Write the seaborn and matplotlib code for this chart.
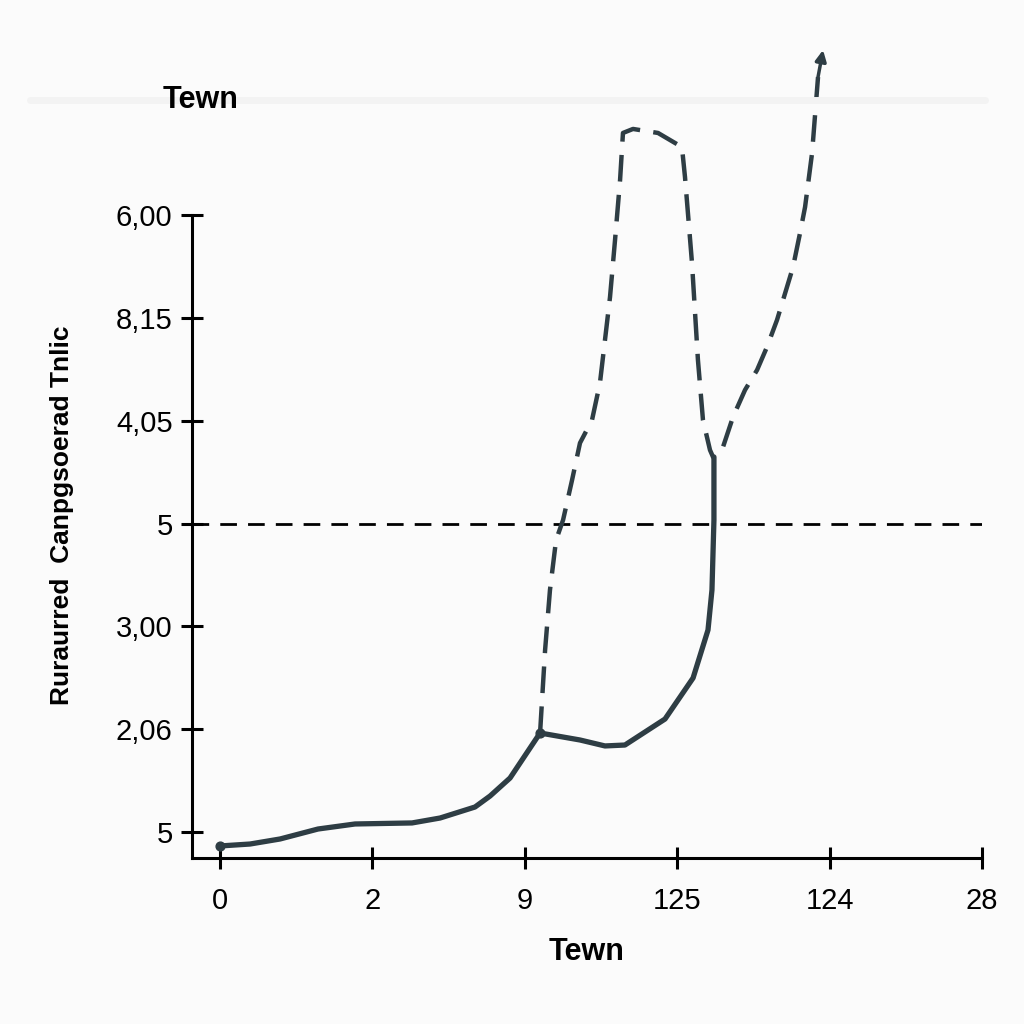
import matplotlib
matplotlib.use("Agg")
import matplotlib.pyplot as plt
import seaborn as sns
import pandas as pd
from matplotlib.lines import Line2D

# ---- data (x in tick-slot units, y in tick-slot units) ----
x_tick_labels = ["0", "2", "9", "125", "124", "28"]
y_tick_labels = ["5", "2,06", "3,00", "5", "4,05", "8,15", "6,00"]

solid_x = [0.000, 0.197, 0.394, 0.643, 0.886, 1.260, 1.444, 1.673, 1.772, 1.903,
           2.100, 2.362, 2.526, 2.657, 2.920, 3.104, 3.202, 3.228, 3.241, 3.241]
solid_y = [-0.136, -0.117, -0.068, 0.029, 0.078, 0.088, 0.136, 0.243, 0.350, 0.525,
           0.963, 0.895, 0.837, 0.846, 1.099, 1.498, 1.965, 2.354, 3.035, 3.648]

dash_x = [2.100, 2.133, 2.165, 2.205, 2.251, 2.310, 2.362, 2.441, 2.493, 2.526,
          2.559, 2.592, 2.625, 2.644, 2.710, 2.874, 3.031, 3.051, 3.097, 3.136,
          3.169, 3.215, 3.235, 3.294, 3.366, 3.445, 3.524, 3.589, 3.655, 3.760,
          3.806, 3.839, 3.885, 3.924]
dash_y = [0.963, 1.770, 2.354, 2.840, 3.035, 3.424, 3.784, 4.008, 4.368, 4.786,
          5.204, 5.759, 6.342, 6.800, 6.839, 6.800, 6.663, 6.372, 5.535, 4.591,
          4.008, 3.716, 3.648, 3.716, 4.037, 4.300, 4.494, 4.718, 4.981, 5.496,
          5.827, 6.080, 6.605, 7.344]
arrow_tip = (3.957, 7.607)
ref_level = 3

title_text = "Tewn"
xlabel_text = "Tewn"
ylabel_text = "Ruraurred  Canpgsoerad Tnlic"

# ---- style ----
sns.set_style("white")
plt.rcParams["font.family"] = ["Liberation Sans", "DejaVu Sans"]
plt.rcParams["text.color"] = "black"

line_color = "#2e3d44"

fig = plt.figure(figsize=(10.24, 10.24), dpi=100)
fig.patch.set_facecolor("#fbfbfb")
ax = fig.add_axes([192/1024, 1-858/1024, (982-192)/1024, (858-40)/1024])
ax.set_facecolor("none")

# faint band near top
fig.add_artist(Line2D([30/1024, 985/1024], [1-100/1024, 1-100/1024],
                      color="#f3f3f3", lw=5, transform=fig.transFigure))

df_solid = pd.DataFrame({"x": solid_x, "y": solid_y})
df_dash = pd.DataFrame({"x": dash_x, "y": dash_y})

ax.axhline(ref_level, color="black", lw=2.0, ls=(0, (6, 4)), zorder=1)

sns.lineplot(data=df_dash, x="x", y="y", sort=False, estimator=None, ax=ax,
             color=line_color, lw=3.2, zorder=2)
ax.lines[-1].set_linestyle((0, (6, 3)))
ax.lines[-1].set_clip_on(False)

sns.lineplot(data=df_solid, x="x", y="y", sort=False, estimator=None, ax=ax,
             color=line_color, lw=3.8, zorder=3)
ax.lines[-1].set_solid_capstyle("round")
ax.lines[-1].set_solid_joinstyle("round")

# endpoint dots
ax.scatter([solid_x[0], solid_x[10]], [solid_y[0], solid_y[10]], s=40,
           color=line_color, zorder=4)

# arrow head at the top of the dashed line
ax.annotate("", xy=arrow_tip, xytext=(dash_x[-1], dash_y[-1]),
            arrowprops=dict(arrowstyle="-|>", color=line_color, lw=2.5,
                            mutation_scale=16, shrinkA=0, shrinkB=0),
            annotation_clip=False)

ax.set_xlim(-0.184, 5.0)
ax.set_ylim(-0.253, (832-40)/102.8)

ax.set_xticks(range(len(x_tick_labels)))
ax.set_xticklabels(x_tick_labels, fontsize=21)
ax.set_yticks(range(len(y_tick_labels)))
ax.set_yticklabels(y_tick_labels, fontsize=21)

for s in ["top", "right"]:
    ax.spines[s].set_visible(False)
for s in ["left", "bottom"]:
    ax.spines[s].set_linewidth(2.2)
    ax.spines[s].set_color("black")
ax.spines["left"].set_bounds(-0.253, 6)

ax.tick_params(axis="both", direction="inout", length=16, width=2.2,
               color="black", labelcolor="black", bottom=True, left=True)
ax.tick_params(axis="x", pad=13)
ax.tick_params(axis="y", pad=6)

ax.set_xlabel(xlabel_text, fontsize=22, fontweight="bold", labelpad=16,
              color="black")
ax.set_ylabel("")

fig.text(163/1024, 1-100/1024, title_text, fontsize=22, fontweight="bold",
         ha="left", va="center", color="black")
fig.text(62/1024, 1-515/1024, ylabel_text, fontsize=19, fontweight="bold",
         rotation=90, ha="center", va="center", color="black")

fig.savefig("out.png", dpi=100, facecolor=fig.get_facecolor())
